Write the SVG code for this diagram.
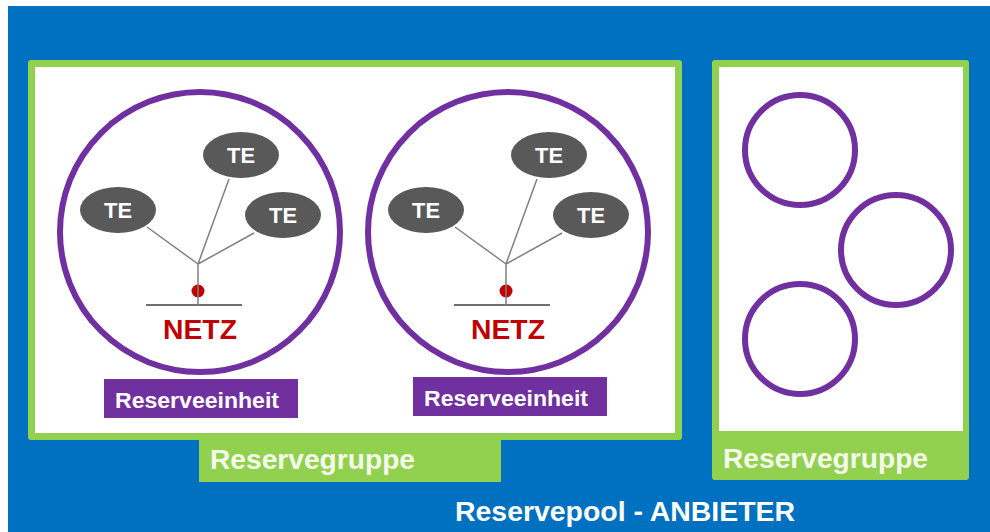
<svg xmlns="http://www.w3.org/2000/svg" width="990" height="532" viewBox="0 0 990 532">
<style>
.bold{font-family:"Liberation Sans",Arial,sans-serif;font-weight:bold}
.grp{fill:#92d050}
.inner{fill:#ffffff}
.unit{fill:none;stroke:#7030a0;stroke-width:6}
.te{fill:#595959}
.tet{fill:#ffffff;font-size:22px;text-anchor:middle}
.wire{stroke:#808080;stroke-width:1.5;fill:none}
.base{stroke:#404040;stroke-width:1.5}
.netz{fill:#c00000;font-size:28px;text-anchor:middle}
.lbl{fill:#7030a0}
.lblt{fill:#ffffff;font-size:22px}
.gt{fill:#f4fbe8;font-size:27px}
</style>
<rect x="0" y="0" width="990" height="532" fill="#ffffff"/>
<rect x="8" y="6" width="982" height="526" fill="#0070c0"/>

<g id="reservegruppe-1">
  <rect class="grp" x="28" y="60" width="654" height="380" rx="3"/>
  <rect class="inner" x="35" y="67" width="640" height="366"/>
  <rect class="grp" x="199" y="433" width="302" height="49"/>
  <text class="bold gt" x="210" y="469" textLength="205" lengthAdjust="spacingAndGlyphs">Reservegruppe</text>
</g>

<g id="reserveeinheit-1">
  <circle class="unit" cx="200" cy="232" r="140"/>
  <g id="te-1a"><ellipse class="te" cx="118" cy="210" rx="38" ry="23"/><text class="bold tet" x="118" y="218" textLength="28" lengthAdjust="spacingAndGlyphs">TE</text></g>
  <g id="te-1b"><ellipse class="te" cx="241" cy="155" rx="38" ry="23"/><text class="bold tet" x="241" y="163" textLength="28" lengthAdjust="spacingAndGlyphs">TE</text></g>
  <g id="te-1c"><ellipse class="te" cx="283" cy="215" rx="38" ry="23"/><text class="bold tet" x="283" y="223" textLength="28" lengthAdjust="spacingAndGlyphs">TE</text></g>
  <line class="base" x1="146" y1="305" x2="242" y2="305"/>
  <circle cx="198" cy="291" r="6.5" fill="#c00000"/>
  <text class="bold netz" x="200" y="339" textLength="74" lengthAdjust="spacingAndGlyphs">NETZ</text>
  <rect class="lbl" x="104" y="379" width="194" height="39"/>
  <text class="bold lblt" x="115" y="408" textLength="164" lengthAdjust="spacingAndGlyphs">Reserveeinheit</text>
</g>

<g id="reserveeinheit-2">
  <circle class="unit" cx="508" cy="232" r="140"/>
  <g id="te-2a"><ellipse class="te" cx="426" cy="210" rx="38" ry="23"/><text class="bold tet" x="426" y="218" textLength="28" lengthAdjust="spacingAndGlyphs">TE</text></g>
  <g id="te-2b"><ellipse class="te" cx="549" cy="155" rx="38" ry="23"/><text class="bold tet" x="549" y="163" textLength="28" lengthAdjust="spacingAndGlyphs">TE</text></g>
  <g id="te-2c"><ellipse class="te" cx="591" cy="215" rx="38" ry="23"/><text class="bold tet" x="591" y="223" textLength="28" lengthAdjust="spacingAndGlyphs">TE</text></g>
  <line class="base" x1="454" y1="305" x2="550" y2="305"/>
  <circle cx="506" cy="291" r="6.5" fill="#c00000"/>
  <text class="bold netz" x="508" y="339" textLength="74" lengthAdjust="spacingAndGlyphs">NETZ</text>
  <rect class="lbl" x="413" y="377" width="194" height="39"/>
  <text class="bold lblt" x="424" y="406" textLength="164" lengthAdjust="spacingAndGlyphs">Reserveeinheit</text>
</g>

<g id="reservegruppe-2">
  <rect class="grp" x="712" y="60" width="257" height="420" rx="3"/>
  <rect class="inner" x="719" y="67" width="244" height="364"/>
  <text class="bold gt" x="723" y="468" textLength="205" lengthAdjust="spacingAndGlyphs">Reservegruppe</text>
  <circle class="unit" cx="800" cy="150" r="55"/>
  <circle class="unit" cx="896" cy="250" r="55"/>
  <circle class="unit" cx="800" cy="339" r="55"/>
</g>

<g id="connectors">
  <path class="wire" d="M147 227 L198 264 M229 179 L198 264 M254 233 L198 264 M198 264 L198 305"/>
  <path class="wire" d="M455 227 L506 264 M537 179 L506 264 M562 233 L506 264 M506 264 L506 305"/>
</g>

<text class="bold" x="455" y="521" fill="#ffffff" font-size="27" textLength="340" lengthAdjust="spacingAndGlyphs">Reservepool  - ANBIETER</text>
</svg>
